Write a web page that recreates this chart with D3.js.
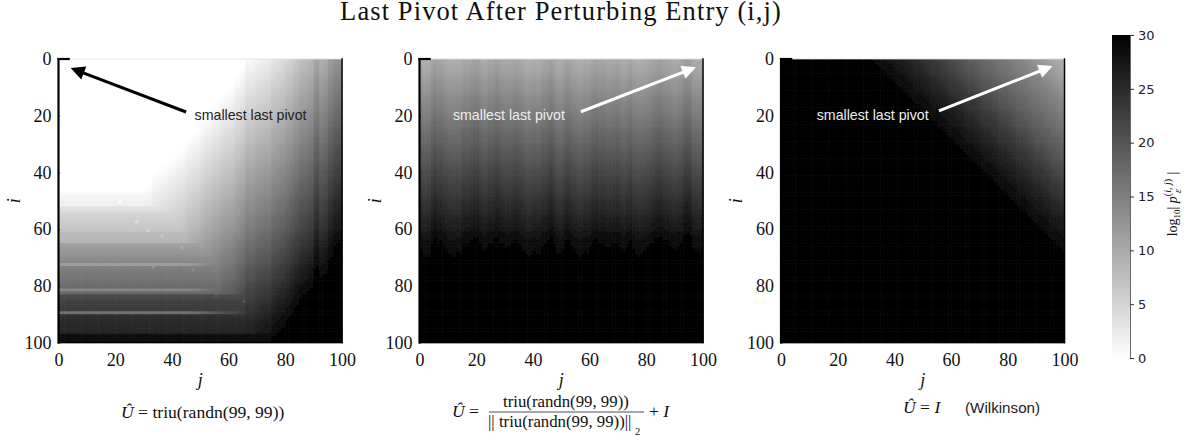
<!DOCTYPE html>
<html>
<head>
<meta charset="utf-8">
<script src="https://cdn.jsdelivr.net/npm/d3@7"></script>
<style>
body { margin: 0; background: #fff; }
svg { display: block; }
.serif { font-family: "Liberation Serif", serif; fill: #111; }
.sans { font-family: "Liberation Sans", sans-serif; }
</style>
</head>
<body>
<div id="graph"></div>
<script>
// values are log10|pivot|, 0 = white, 30 = black
var ticks = [0, 20, 40, 60, 80, 100];
var barTicks = [0, 5, 10, 15, 20, 25, 30];
var titleText = "Last Pivot After Perturbing Entry (i,j)";
var noteText = "smallest last pivot";

// panel 1: level of each row at the left edge
var rowLevels1 = [0,0,0,0,0,0,0,0,0,0,0,0,0,0,0,0,0,0,0,0,
	0,0,0,0,0,0,0,0,0,0,0,0,0,0,0,0,0,0,0,0,
	0,0,0,0,0,0,0,.6,1.2,1.2,1.8,1.8,3.5,4,5,5.3,5.6,5.9,6.3,6.6,
	7,8,8.2,8.4,8.8,11.2,11.6,12,12.5,13,13.5,14,11.5,15,15.3,15.7,16,16.4,16.7,17,
	17.3,14.2,17.6,21.5,21.8,22.2,22.5,22.8,23,17,24.4,24.7,25,25.2,25.4,25.6,26,28.6,28.8,29];
// panel 1: level of each column along the top, below zero where it is still white
var colLevels1 = [-14,-14,-14,-14,-14,-14,-14,-14,-14,-14,-14,-14,-14,-14,-14,-14,-14,-14,-14,-14,
	-14,-14,-14,-14,-14,-12.2,-12,-11.6,-11.4,-11.1,-10.9,-10.6,-10.4,-9.8,-9.6,-9.4,-9.2,-9,-8.8,-8.5,
	-8.3,-8.1,-7.8,-7.6,-7.3,-6.8,-6.6,-6.3,-6.1,-5.8,-5.2,-4.9,-4.6,-4.3,-4,-3.7,-3.4,-3.1,-2.8,-2.5,
	-2.3,-2.1,-1.4,-1.1,-.7,-.3,1,.7,1,1.3,1.6,1.8,2,2.2,2.4,3.2,3.4,3.7,4,4.3,
	5,5.3,5.6,6.4,6.7,7.5,7.7,7.9,8.2,8.5,10.5,10.7,9.5,9.8,10,11.5,11.7,12.8,13,13.2];
// panel 1: how much the columns darken going down
var rowRamp1 = [0,.2,.5,.7,1,1.2,1.5,1.7,2,2.2,
	2.5,2.7,3,3.2,3.4,3.7,3.9,4.2,4.4,4.7,
	4.9,5.2,5.4,5.6,5.9,6.1,6.4,6.6,6.9,7.1,
	7.4,7.6,7.8,8.1,8.3,8.6,8.8,9.1,9.3,9.6,
	9.8,10,10.3,10.5,10.8,11,11.3,11.5,11.8,12,
	12.3,12.5,12.8,13,13.2,13.5,13.7,14,14.2,14.5,
	14.8,15.1,15.4,15.7,16,16.3,16.6,16.8,17.1,17.4,
	17.7,18,18.3,18.6,18.9,19.2,19.5,19.8,20.1,20.4,
	20.7,21,21.3,21.6,21.9,22.2,22.5,22.8,23.1,23.4,
	23.7,24,24.3,24.6,24.9,25.2,25.5,25.8,26.1,26.4];
// panel 1: lone light cells, as [i, j]
var specks1 = [[50, 21], [57, 27], [60, 31], [62, 36], [73, 33], [66, 43], [74, 47], [83, 55], [85, 65]];

// panel 2: level of each row and the stripe offset of each column
var rowLevels2 = [10,10.2,10.5,10.8,11.1,11.4,11.7,12,12.3,12.6,
	12.9,13.2,13.5,13.8,14.1,14.4,14.7,15,15.2,15.5,
	15.8,16.1,16.4,16.7,17,17.3,17.6,17.9,18.1,18.4,
	18.7,19,19.3,19.6,19.9,20.1,20.4,20.7,21,21.3,
	21.6,21.9,22.2,22.4,22.7,23,23.3,23.6,23.9,24.1,
	24.4,24.7,25,25.3,25.5,25.8,26.1,26.4,26.7,27,
	27.4,27.8,28.1,28.4,28.7,29,29.2,29.4,29.6,29.8,
	29.9,30,30,30,30,30,30,30,30,30,
	30,30,30,30,30,30,30,30,30,30,
	30,30,30,30,30,30,30,30,30,30];
var colStripes2 = [0,-.6,-.6,-.6,.4,1,.4,.6,.2,-.2,
	-.5,-.6,-.6,-.3,-.4,.3,.2,.3,.6,.9,
	1,.3,-.2,-.2,.4,.4,.9,1,.4,.3,
	-.1,.1,.3,.5,.5,.1,-.2,-.5,-.6,-.5,
	-.2,-.5,-.4,.2,.4,.6,1.1,.3,-.4,-.5,
	-.2,.5,.6,.1,-.2,-.4,-.6,-.5,-.2,-.4,
	.1,.6,.9,.3,.5,.2,-.1,.2,.4,.4,
	.2,-.2,-.3,.3,.6,-.1,-.5,-.6,-.5,-.3,
	.1,.3,.4,.9,1.1,1,.6,.5,.1,-.1,
	-.2,.2,.4,1.3,1.4,1.2,-.1,-.2,-.3,0];

// panel 3: level by distance above the diagonal (j - i)
var diagLevels3 = [30,30,30,30,30,30,30,30,30,30,
	30,30,30,30,30,30,30,30,30,30,
	30,30,30,30,30,30,30,30,29.9,29.8,
	29.6,29.4,29.2,29,28.7,28.4,28.1,27.9,27.6,27.3,
	27,26.8,26.5,26.2,25.9,25.6,25.3,25,24.7,24.4,
	24.1,23.9,23.7,23.4,23,22.7,22.3,22,21.6,21.3,
	21,20.7,20.3,20,19.7,19.4,19.1,18.9,18.6,18.3,
	18,17.8,17.5,17.2,17,16.7,16.4,16.2,15.9,15.6,
	15.3,15.1,14.9,14.7,14.4,14,13.7,13.3,13,12.6,
	12.3,11.9,11.6,11.3,11,10.6,10.3,10,9.7,9.4];

var index = d3.range(100);

var panels = [
	{
		left: 58.5,
		level: function(i, j) {
			var speck = specks1.some(function(s) { return s[0] === i && s[1] === j; });
			return Math.max(rowLevels1[i], colLevels1[j] + rowRamp1[i]) - (speck ? 2 : 0);
		},
		arrow: [[45, 18.7], [4.3, 3.2]],
		ink: "#000",
		note: [48, 21.5]
	},
	{
		left: 419.5,
		level: function(i, j) { return rowLevels2[i] + (i < 75 ? colStripes2[j] : 0); },
		arrow: [[56.9, 18.6], [97.5, 2.9]],
		ink: "#fff",
		note: [11.8, 21.5]
	},
	{
		left: 781,
		level: function(i, j) { return j < i ? 30 : diagLevels3[j - i]; },
		arrow: [[55.7, 18.3], [95.8, 2.5]],
		ink: "#fff",
		note: [12.6, 21.5]
	}
];

var SVGwidth = 1185,
	SVGheight = 440,
	plotTop = 59,
	size = 283.5;

var svg = d3.select("div#graph")
	.append("svg")
	.attr("width", SVGwidth)
	.attr("height", SVGheight);

var color = d3.scaleLinear().domain([0, 30]).range(["#ffffff", "#000000"]).clamp(true);

svg.append("filter")
	.attr("id", "soft")
	.append("feGaussianBlur")
	.attr("stdDeviation", 0.6);

svg.append("text")
	.attr("class", "serif")
	.attr("x", 561)
	.attr("y", 19.5)
	.attr("text-anchor", "middle")
	.attr("font-size", 26.5)
	.style("letter-spacing", "1.1px")
	.text(titleText);

panels.forEach(function(p) {
	var x = d3.scaleLinear().domain([0, 100]).range([0, size]),
		y = d3.scaleLinear().domain([0, 100]).range([0, size]);

	var g = svg.append("g").attr("transform", "translate(" + p.left + "," + plotTop + ")");

	var cells = [];
	index.forEach(function(i) {
		index.forEach(function(j) { cells.push({i: i, j: j, v: p.level(i, j)}); });
	});

	g.append("g")
		.attr("filter", "url(#soft)")
		.selectAll("rect")
		.data(cells)
		.enter()
		.append("rect")
		.attr("x", function(d) { return x(d.j); })
		.attr("y", function(d) { return y(d.i); })
		.attr("width", x(1) + 0.6)
		.attr("height", y(1) + 0.6)
		.attr("fill", function(d) { return color(d.v); });

	var xAxis = g.append("g")
		.attr("transform", "translate(0," + size + ")")
		.call(d3.axisBottom(x).tickValues(ticks).tickSize(0).tickPadding(11));
	var yAxis = g.append("g")
		.call(d3.axisLeft(y).tickValues(ticks).tickSize(-1.5).tickPadding(7));

	[xAxis, yAxis].forEach(function(a) {
		a.select(".domain").remove();
		a.selectAll("text").attr("class", "serif").attr("font-size", 18);
	});

	// spines: heavy on the left with a stub along the top, thin right and bottom, faint top
	var frame = [
		[[0, 0], [100, 0], 0.8, "#ddd"],
		[[0, 0], [0, 100], 2.2, "#000"],
		[[0, 0], [3.6, 0], 2.2, "#000"],
		[[0, 100], [100, 100], 1.4, "#000"],
		[[100, 0], [100, 100], 1.4, "#000"]
	];
	g.selectAll("line.frame")
		.data(frame)
		.enter()
		.append("line")
		.attr("class", "frame")
		.attr("x1", function(d) { return x(d[0][0]); })
		.attr("y1", function(d) { return y(d[0][1]); })
		.attr("x2", function(d) { return x(d[1][0]); })
		.attr("y2", function(d) { return y(d[1][1]); })
		.attr("stroke", function(d) { return d[3]; })
		.attr("stroke-width", function(d) { return d[2]; })
		.attr("stroke-linecap", "square");

	// arrow shaft stops short of the tip, the head sits on the end
	var a0 = [x(p.arrow[0][0]), y(p.arrow[0][1])],
		a1 = [x(p.arrow[1][0]), y(p.arrow[1][1])],
		ang = Math.atan2(a1[1] - a0[1], a1[0] - a0[0]),
		deg = ang * 180 / Math.PI;

	g.append("line")
		.attr("x1", a0[0])
		.attr("y1", a0[1])
		.attr("x2", a1[0] - 12 * Math.cos(ang))
		.attr("y2", a1[1] - 12 * Math.sin(ang))
		.attr("stroke", p.ink)
		.attr("stroke-width", 3);
	g.append("path")
		.attr("d", "M0,0L-14,-7L-14,7Z")
		.attr("transform", "translate(" + a1[0] + "," + a1[1] + ") rotate(" + deg + ")")
		.attr("fill", p.ink);

	g.append("text")
		.attr("class", "sans")
		.attr("x", x(p.note[0]))
		.attr("y", y(p.note[1]))
		.attr("font-size", 14.2)
		.attr("fill", p.ink === "#000" ? "#222" : "#eee")
		.text(noteText);

	g.append("text")
		.attr("class", "serif")
		.attr("x", x(50))
		.attr("y", size + 43)
		.attr("text-anchor", "middle")
		.attr("font-size", 18)
		.attr("font-style", "italic")
		.text("j");
	g.append("text")
		.attr("class", "serif")
		.attr("transform", "translate(-39," + y(50) + ") rotate(-90)")
		.attr("text-anchor", "middle")
		.attr("font-size", 18)
		.attr("font-style", "italic")
		.text("i");
});

// captions under the panels
function math(x, y, parts, size0) {
	var t = svg.append("text")
		.attr("class", "serif")
		.attr("x", x)
		.attr("y", y)
		.attr("font-size", size0 || 15);
	parts.forEach(function(s) {
		var ts = t.append("tspan").text(s.text);
		if (s.italic) ts.attr("font-style", "italic");
	});
	return t;
}

var hatU = "U\u0302";

math(121, 418, [{text: hatU, italic: true}, {text: " = triu(randn(99, 99))"}], 17.6);

math(452, 417, [{text: hatU, italic: true}, {text: " ="}], 17.6);
math(503, 407, [{text: "triu(randn(99, 99))"}], 16.8);
svg.append("line")
	.attr("x1", 489)
	.attr("x2", 644)
	.attr("y1", 412)
	.attr("y2", 412)
	.attr("stroke", "#222")
	.attr("stroke-width", 0.8);
math(488, 427, [{text: "|| triu(randn(99, 99))||"}], 16.8);
math(635, 435, [{text: "2"}], 10.5);
math(649, 417, [{text: "+ "}, {text: "I", italic: true}], 17.6);

math(903, 413, [{text: hatU, italic: true}, {text: " = "}, {text: "I", italic: true}], 17.6);
svg.append("text")
	.attr("class", "sans")
	.attr("x", 965)
	.attr("y", 413)
	.attr("font-size", 15.2)
	.attr("fill", "#222")
	.text("(Wilkinson)");

// colorbar
var barY = d3.scaleLinear().domain([0, 30]).range([358, 35]);
var barLeft = 1112, barRight = 1130;

svg.append("g")
	.attr("shape-rendering", "crispEdges")
	.selectAll("rect")
	.data(d3.range(0, 30, 0.1))
	.enter()
	.append("rect")
	.attr("x", barLeft)
	.attr("width", barRight - barLeft)
	.attr("y", function(d) { return barY(d + 0.1); })
	.attr("height", barY(0) - barY(0.1) + 1)
	.attr("fill", function(d) { return color(d); });

var barAxis = svg.append("g")
	.attr("transform", "translate(" + barRight + ",0)")
	.call(d3.axisRight(barY).tickValues(barTicks).tickSize(4).tickPadding(4));
barAxis.select(".domain").attr("stroke", "#666").attr("stroke-width", 1);
barAxis.selectAll("line").attr("stroke", "#333");
barAxis.selectAll("text")
	.attr("font-family", "'DejaVu Sans', sans-serif")
	.attr("font-size", 13)
	.attr("fill", "#222");

var barLabel = svg.append("text")
	.attr("class", "serif")
	.attr("transform", "translate(1177,204) rotate(-90)")
	.attr("text-anchor", "middle")
	.attr("font-size", 14);
barLabel.append("tspan").text("log");
barLabel.append("tspan").attr("font-size", 9).attr("dy", 3).text("10");
barLabel.append("tspan").attr("dy", -3).text("| ");
barLabel.append("tspan").attr("font-style", "italic").text("p");
barLabel.append("tspan").attr("font-size", 10).attr("dy", -6).text("(");
barLabel.append("tspan").attr("font-size", 10).attr("font-style", "italic").text("i, j");
barLabel.append("tspan").attr("font-size", 10).text(")");
barLabel.append("tspan").attr("font-size", 10).attr("font-style", "italic").attr("dy", 10).attr("dx", -14).text("\u03b5");
barLabel.append("tspan").attr("dy", -4).attr("dx", 11).text(" |");
</script>
</body>
</html>
